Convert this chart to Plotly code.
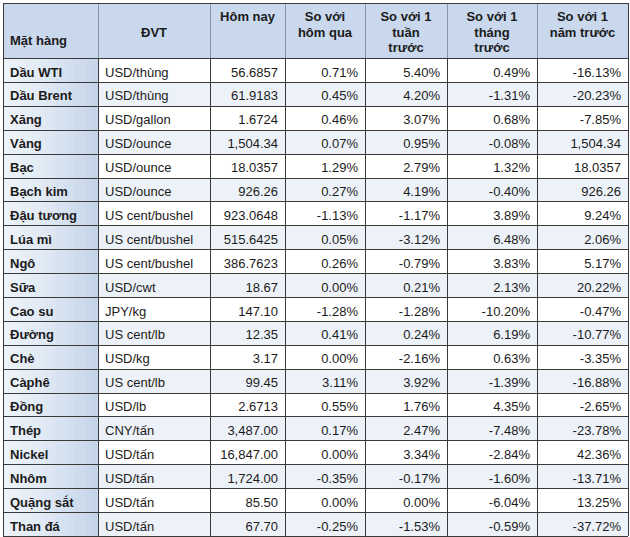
import plotly.graph_objects as go

header_lines = [["Mặt hàng"], ["ĐVT"], ["Hôm nay"], ["So với", "hôm qua"],
                ["So với 1", "tuần", "trước"], ["So với 1", "tháng", "trước"],
                ["So với 1", "năm trước"]]

items = ["Dầu WTI", "Dầu Brent", "Xăng", "Vàng", "Bạc", "Bạch kim", "Đậu tương",
         "Lúa mì", "Ngô", "Sữa", "Cao su", "Đường", "Chè", "Càphê", "Đồng", "Thép",
         "Nickel", "Nhôm", "Quặng sắt", "Than đá"]
units = ["USD/thùng", "USD/thùng", "USD/gallon", "USD/ounce", "USD/ounce", "USD/ounce",
         "US cent/bushel", "US cent/bushel", "US cent/bushel", "USD/cwt", "JPY/kg",
         "US cent/lb", "USD/kg", "US cent/lb", "USD/lb", "CNY/tấn", "USD/tấn", "USD/tấn",
         "USD/tấn", "USD/tấn"]
today = ["56.6857", "61.9183", "1.6724", "1,504.34", "18.0357", "926.26", "923.0648",
         "515.6425", "386.7623", "18.67", "147.10", "12.35", "3.17", "99.45", "2.6713",
         "3,487.00", "16,847.00", "1,724.00", "85.50", "67.70"]
vs_day = ["0.71%", "0.45%", "0.46%", "0.07%", "1.29%", "0.27%", "-1.13%", "0.05%", "0.26%",
          "0.00%", "-1.28%", "0.41%", "0.00%", "3.11%", "0.55%", "0.17%", "0.00%", "-0.35%",
          "0.00%", "-0.25%"]
vs_week = ["5.40%", "4.20%", "3.07%", "0.95%", "2.79%", "4.19%", "-1.17%", "-3.12%", "-0.79%",
           "0.21%", "-1.28%", "0.24%", "-2.16%", "3.92%", "1.76%", "2.47%", "3.34%", "-0.17%",
           "0.00%", "-1.53%"]
vs_month = ["0.49%", "-1.31%", "0.68%", "-0.08%", "1.32%", "-0.40%", "3.89%", "6.48%", "3.83%",
            "2.13%", "-10.20%", "6.19%", "0.63%", "-1.39%", "4.35%", "-7.48%", "-2.84%",
            "-1.60%", "-6.04%", "-0.59%"]
vs_year = ["-16.13%", "-20.23%", "-7.85%", "1,504.34", "18.0357", "926.26", "9.24%", "2.06%",
           "5.17%", "20.22%", "-0.47%", "-10.77%", "-3.35%", "-16.88%", "-2.65%", "-23.78%",
           "42.36%", "-13.71%", "13.25%", "-37.72%"]

columns = [items, units, today, vs_day, vs_week, vs_month, vs_year]

# ---- layout geometry (pixels) ----
W, H = 630, 537
col_edges = [3, 98, 210, 285, 365, 447, 537, 628]
header_top, header_bot = 3, 58
row_h = 23.9
n = len(items)
row_edges = [header_top, header_bot] + [header_bot + row_h * (i + 1) for i in range(n)]
aligns = ["left", "left", "right", "right", "right", "right", "right"]
pad = 7
header_start = [1.55, 1.0, 0, 0, 0, 0, 0]
header_line_gap = 15.5
header_first_y = 18
text_dy = 3.3

FONT = "Liberation Sans, Arial, sans-serif"
TXT = "#1b1b1b"

fig = go.Figure()

# cell backgrounds
zc = []
for r in range(n + 1):
    row = []
    for c in range(7):
        if r == 0:
            row.append(2)
        else:
            row.append(0 if r % 2 == 1 else 1)
    zc.append(row)
fig.add_trace(go.Heatmap(
    x=col_edges, y=row_edges, z=zc, zmin=0, zmax=2,
    colorscale=[[0, "#ffffff"], [0.5, "#edf2f9"], [1, "#c9d8ed"]],
    showscale=False, hoverinfo="skip"))

# gradient fill of first column
nsl = 16
gx = [col_edges[0] + (col_edges[1] - col_edges[0]) * k / nsl for k in range(nsl + 1)]
gz = [[k / (nsl - 1) for k in range(nsl)] for _ in range(n)]
fig.add_trace(go.Heatmap(
    x=gx, y=row_edges[1:], z=gz, zmin=0, zmax=1,
    colorscale=[[0, "#eef3f9"], [0.5, "#dde7f3"], [1, "#c6d5ea"]],
    showscale=False, hoverinfo="skip"))

# grid lines
def hp(v):
    return round(v) + 0.5

hx, hy = [], []
for e in row_edges:
    hx += [col_edges[0], col_edges[-1], None]
    hy += [hp(e), hp(e), None]
vx, vy = [], []
for e in col_edges:
    vx += [hp(e), hp(e), None]
    vy += [header_bot, row_edges[-1], None]
gx2, gy2 = [], []
for e in col_edges[1:-1]:
    gx2 += [hp(e), hp(e), None]
    gy2 += [header_top, header_bot, None]
fig.add_trace(go.Scatter(x=gx2, y=gy2, mode="lines", line=dict(color="#8595aa", width=1),
                         hoverinfo="skip", showlegend=False))
fig.add_trace(go.Scatter(x=hx + vx, y=hy + vy, mode="lines", line=dict(color="#3a3a3a", width=1),
                         hoverinfo="skip", showlegend=False))
for e in [col_edges[0], col_edges[-1]]:
    fig.add_trace(go.Scatter(x=[hp(e), hp(e)], y=[header_top, header_bot], mode="lines",
                             line=dict(color="#3a3a3a", width=1), hoverinfo="skip",
                             showlegend=False))

# header texts
for c, lines in enumerate(header_lines):
    for i, t in enumerate(lines):
        y = header_first_y + header_line_gap * (header_start[c] + i)
        if c == 0:
            x, pos = col_edges[0] + pad, "middle right"
        else:
            x, pos = (col_edges[c] + col_edges[c + 1]) / 2, "middle center"
        fig.add_trace(go.Scatter(x=[x], y=[y], mode="text", text=["<b>%s</b>" % t],
                                 textposition=pos, hoverinfo="skip", showlegend=False,
                                 textfont=dict(family=FONT, size=13, color=TXT)))

# body texts
ys = [(row_edges[i + 1] + row_edges[i + 2]) / 2 + text_dy for i in range(n)]
for c, vals in enumerate(columns):
    if aligns[c] == "left":
        x, pos = col_edges[c] + pad, "middle right"
    else:
        x, pos = col_edges[c + 1] - pad, "middle left"
    txt = ["<b>%s</b>" % v for v in vals] if c == 0 else vals
    fig.add_trace(go.Scatter(x=[x] * n, y=ys, mode="text", text=txt, textposition=pos,
                             hoverinfo="skip", showlegend=False,
                             textfont=dict(family=FONT, size=13, color=TXT)))

fig.update_layout(
    width=W, height=H, margin=dict(l=0, r=0, t=0, b=0),
    paper_bgcolor="white", plot_bgcolor="white", showlegend=False,
    xaxis=dict(range=[0, W], visible=False, fixedrange=True),
    yaxis=dict(range=[H, 0], visible=False, fixedrange=True),
)
fig.write_html("out.html", config={"displayModeBar": False},
               post_script="document.body.style.margin='0px';document.body.style.overflow='hidden';")
